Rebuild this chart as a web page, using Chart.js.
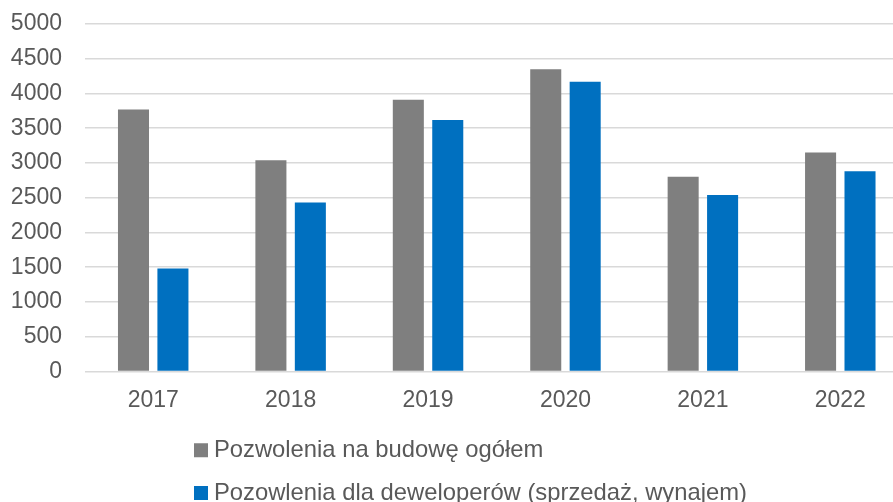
<!DOCTYPE html>
<html>
<head>
<meta charset="utf-8">
<script src="https://cdn.jsdelivr.net/npm/chart.js@4/dist/chart.umd.min.js"></script>
<style>
  html, body { margin: 0; padding: 0; overflow: hidden; background: #fff; }
  #wrap { width: 909px; height: 515px; }
</style>
</head>
<body>
<div id="wrap"><canvas id="myChart"></canvas></div>
<script>
const years = ["2017", "2018", "2019", "2020", "2021", "2022"];
const permitsTotal = [3770, 3040, 3910, 4350, 2800, 3150];
const permitsDevelopers = [1480, 2430, 3620, 4170, 2540, 2880];
const seriesNames = ["Pozwolenia na budowę ogółem", "Pozowlenia dla deweloperów (sprzedaż, wynajem)"];

// legend rows start indented, like the original
const legendIndent = {
  id: "legendIndent",
  afterLayout(chart) {
    chart.legend.left = 181;
  }
};

const ctx = document.getElementById("myChart").getContext("2d");
const font = "'Liberation Sans', Arial, sans-serif";

const chart = new Chart(ctx, {
  type: "bar",
  data: {
    labels: years,
    datasets: [
      { label: seriesNames[0], data: permitsTotal, backgroundColor: "#7f7f7f" },
      { label: seriesNames[1], data: permitsDevelopers, backgroundColor: "#0070c0" }
    ]
  },
  options: {
    responsive: true,
    maintainAspectRatio: false,
    animation: false,
    categoryPercentage: 0.574,
    barPercentage: 0.787,
    layout: { padding: { top: 24, left: 0, right: 0, bottom: 0 } },
    plugins: {
      tooltip: { enabled: false },
      legend: {
        position: "bottom",
        align: "start",
        labels: {
          usePointStyle: true,
          pointStyle: "rect",
          boxWidth: 2,
          boxHeight: 14,
          padding: 19,
          color: "#595959",
          font: { family: font, size: 23.8 }
        }
      }
    },
    scales: {
      x: {
        grid: { display: false, drawTicks: false },
        border: { display: false },
        ticks: {
          color: "#595959",
          padding: 18,
          font: { family: font, size: 23, lineHeight: 0.96 }
        },
        afterFit(scale) {
          scale.height = 48;
        }
      },
      y: {
        min: 0,
        max: 5000,
        grid: { color: "#d9d9d9", lineWidth: 1.5, drawTicks: false },
        border: { display: false },
        ticks: {
          stepSize: 500,
          color: "#595959",
          padding: 22.5,
          callback: (v) => String(v),
          font: { family: font, size: 23 }
        },
        afterFit(scale) {
          scale.width = 84.5;
          scale.paddingTop = 0;
          scale.paddingBottom = 0;
        }
      }
    }
  },
  plugins: [legendIndent]
});
</script>
</body>
</html>
